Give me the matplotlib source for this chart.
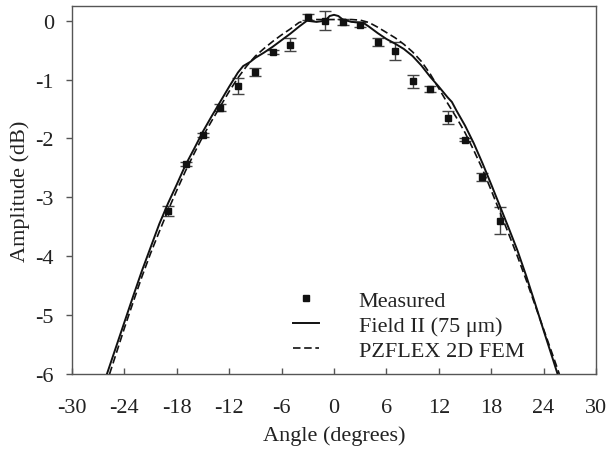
import matplotlib
matplotlib.use("Agg")
import matplotlib.pyplot as plt
import numpy as np

# Measured data
meas_angle = [-19, -17, -15, -13, -11, -9, -7, -5, -3, -1, 1, 3, 5, 7, 9, 11, 13, 15, 17, 19]
meas_amp = [-3.23, -2.43, -1.94, -1.48, -1.11, -0.87, -0.53, -0.41, 0.06, 0.0,
            -0.02, -0.07, -0.36, -0.51, -1.03, -1.16, -1.65, -2.02, -2.65, -3.40]
meas_err = [0.09, 0.03, 0.04, 0.06, 0.14, 0.07, 0.03, 0.11, 0.05, 0.16,
            0.05, 0.04, 0.07, 0.15, 0.11, 0.05, 0.11, 0.03, 0.07, 0.23]

# Field II (75 um) simulation
field_angle = [-26.0, -25, -24, -23, -22, -21, -20, -19, -18, -17, -16, -15, -14, -13, -12, -11,
               -10.4, -9.6, -9, -8, -7, -6, -5, -4, -3.1, -2, -1, -0.5, 0, 0.5, 1, 2, 3, 3.5,
               4, 5, 6, 7, 8, 9, 10, 11, 12, 13, 13.5, 14, 15, 16, 17, 18, 19, 20, 21, 22, 23, 24, 25, 25.6]
field_amp = [-6.0, -5.56, -5.12, -4.68, -4.25, -3.85, -3.45, -3.1, -2.78, -2.45, -2.17, -1.88, -1.62, -1.37, -1.12, -0.88,
             -0.77, -0.70, -0.63, -0.54, -0.44, -0.33, -0.22, -0.1, 0.0, -0.02, 0.0, 0.08, 0.1, 0.08, 0.02, -0.02, -0.03, -0.05,
             -0.1, -0.21, -0.31, -0.39, -0.48, -0.6, -0.76, -0.95, -1.12, -1.3, -1.38, -1.52, -1.78, -2.08, -2.42, -2.78, -3.15, -3.52, -3.9, -4.33, -4.79, -5.26, -5.72, -6.0]

# PZFLEX 2D FEM simulation
fem_angle = [-25.7, -25, -24, -23, -22, -21, -20, -19, -18, -17, -16, -15, -14, -13, -12, -11, -10,
             -9, -8, -7, -6, -5, -4, -3, -2, -1, 0, 1, 2, 3, 4, 5, 6, 7, 8, 9, 10, 11, 12, 13, 14,
             15, 16, 17, 18, 19, 20, 21, 22, 23, 24, 25, 25.8]
fem_amp = [-6.0, -5.68, -5.22, -4.78, -4.35, -3.95, -3.58, -3.22, -2.88, -2.55, -2.25, -1.96, -1.7, -1.45, -1.2, -0.97, -0.77,
           -0.6, -0.47, -0.35, -0.24, -0.14, -0.03, 0.01, 0.02, 0.02, 0.02, 0.02, 0.02, 0.01, -0.03, -0.11, -0.2, -0.29, -0.4, -0.53, -0.69, -0.9, -1.15, -1.4, -1.64,
           -1.9, -2.2, -2.52, -2.88, -3.25, -3.62, -4.0, -4.4, -4.82, -5.24, -5.66, -6.0]

x_ticks = [-30, -24, -18, -12, -6, 0, 6, 12, 18, 24, 30]
y_ticks = [0, -1, -2, -3, -4, -5, -6]

plt.rcParams['font.family'] = ['Liberation Serif', 'DejaVu Serif']

fig = plt.figure(figsize=(6.14, 4.52), dpi=100)
ax = fig.add_axes([72/614, 1-375/452, (596-72)/614, (375-7)/452])

spine_col = '#555555'
txt_col = '#222222'

ax.errorbar(meas_angle, meas_amp, yerr=meas_err, fmt='none', ecolor='#444444',
            elinewidth=1.0, capsize=4.5, capthick=1.0, zorder=2)
ax.plot(meas_angle, meas_amp, 's', color='#111111', markersize=3.8, linestyle='none',
        label='Measured', zorder=4)
ax.plot(field_angle, field_amp, '-', color='#111111', linewidth=1.4, label='Field II (75 μm)', zorder=3)
ax.plot(fem_angle, fem_amp, '--', color='#111111', linewidth=1.2, dashes=(4.5, 2.2),
        label='PZFLEX 2D FEM', zorder=3)

ax.set_xlim(-30, 30)
ax.set_ylim(-6, 0.25)
ax.set_xticks(x_ticks)
ax.set_yticks(y_ticks)
ax.set_xticklabels([str(t) for t in x_ticks])
ax.set_yticklabels([str(t) for t in y_ticks])

for s in ax.spines.values():
    s.set_color(spine_col)
    s.set_linewidth(1.0)

ax.tick_params(axis='x', direction='in', length=4.5, width=1.0, color=spine_col,
               labelsize=16, labelcolor=txt_col, pad=17)
ax.tick_params(axis='y', direction='out', length=4, width=1.0, color=spine_col,
               labelsize=16, labelcolor=txt_col, pad=9)

ax.set_xlabel('Angle (degrees)', fontsize=16, color=txt_col, labelpad=6)
ax.set_ylabel('Amplitude (dB)', fontsize=16, color=txt_col, labelpad=4)

leg = ax.legend(loc='lower left', bbox_to_anchor=(293/614, 1-362/452),
                bbox_transform=fig.transFigure, frameon=False, fontsize=16,
                handlelength=1.15, handletextpad=1.8, labelspacing=0.2,
                borderpad=0, borderaxespad=0, markerscale=1.0)
for t in leg.get_texts():
    t.set_color(txt_col)

fig.savefig('out.png', dpi=100)
